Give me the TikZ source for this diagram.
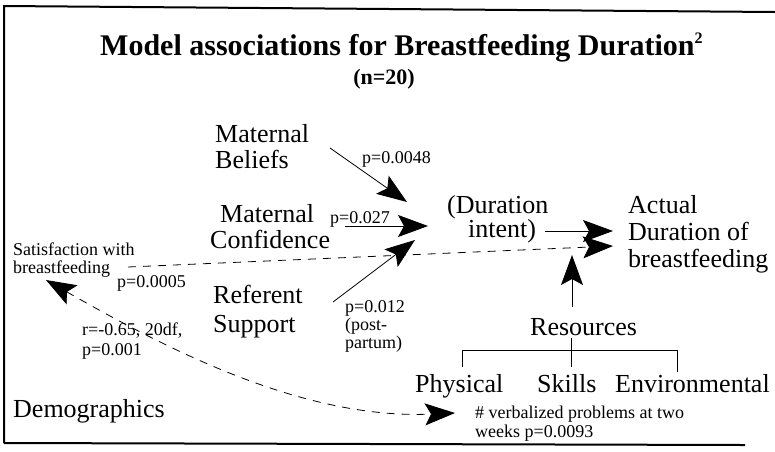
\documentclass[tikz,border=0pt]{standalone}
\usepackage{fontspec}
\setmainfont{Liberation Serif}
\usetikzlibrary{arrows.meta}
\begin{document}
\begin{tikzpicture}[x=1pt,y=-1pt,
  big/.style={font=\fontsize{26}{27}\selectfont, anchor=base west, inner sep=0pt},
  small/.style={font=\fontsize{18}{18}\selectfont, anchor=base west, inner sep=0pt},
  conn/.style={line width=0.8pt, -{Stealth[length=30pt,width=22pt,inset=6pt]}},
  dconn/.style={conn, dash pattern=on 8pt off 7pt},
  dboth/.style={line width=0.8pt, dash pattern=on 8pt off 7pt,
     {Stealth[length=30pt,width=22pt,inset=6pt]}-{Stealth[length=30pt,width=22pt,inset=6pt]}},
  frameline/.style={line width=2pt},
  treeline/.style={line width=0.8pt}]
\useasboundingbox (0,0) rectangle (775,451);
% frame
\draw[frameline] (4,443) -- (4,6) -- (775,12);
\draw[frameline] (4,443) -- (745,445);
% title
\node[anchor=base west, inner sep=0pt, font={\fontsize{30}{32}\selectfont\bfseries}] (title) at (100,55)
  {Model associations for Breastfeeding Duration\raisebox{12pt}{\fontsize{16}{16}\selectfont 2}};
\node[anchor=base, inner sep=0pt, font={\fontsize{22}{24}\selectfont\bfseries}] (n) at (384,84) {(n=20)};
% main nodes
\node[big] (mat1) at (215,142) {Maternal};
\node[big] (bel) at (215,168) {Beliefs};
\node[big] (mat2) at (220,222) {Maternal};
\node[big] (conf) at (210,248) {Confidence};
\node[big] (ref) at (213,303) {Referent};
\node[big] (sup) at (213,332) {Support};
\node[big] (dur) at (447,213) {(Duration};
\node[big] (int) at (468,237) {intent)};
\node[big] (act1) at (628,213) {Actual};
\node[big] (act2) at (628,240) {Duration of};
\node[big] (act3) at (628,267) {breastfeeding};
\node[big] (res) at (530,335) {Resources};
\node[big] (phy) at (415,392) {Physical};
\node[big] (ski) at (537,392) {Skills};
\node[big] (env) at (615,392) {Environmental};
\node[big] (demo) at (13,417) {Demographics};
% small labels
\node[small] (p1) at (362,163) {p=0.0048};
\node[small] (p2) at (330,223) {p=0.027};
\node[small] (sat1) at (13,255) {Satisfaction with};
\node[small] (sat2) at (13,273) {breastfeeding};
\node[small] (p3) at (117,287) {p=0.0005};
\node[small] (r1) at (82,335) {r=-0.65, 20df,};
\node[small] (r2) at (82,355) {p=0.001};
\node[small] (p4) at (345,312) {p=0.012};
\node[small] (p5) at (345,330) {(post-};
\node[small] (p6) at (345,348) {partum)};
\node[small] (vp1) at (475,418) {\# verbalized problems at two};
\node[small] (vp2) at (475,437) {weeks p=0.0093};
% connector end points
\coordinate (belS) at (330,148);
\coordinate (belT) at (407,202);
\coordinate (confS) at (345,226);
\coordinate (confT) at (428,226);
\coordinate (refS) at (333,302);
\coordinate (refT) at (415,240);
\coordinate (intS) at (545,231);
\coordinate (actT1) at (613,231);
\coordinate (satS) at (128,267);
\coordinate (actT2) at (613,246);
\coordinate (resS) at (572,307);
\coordinate (actT3) at (572,255);
\coordinate (satT) at (46,280);
\coordinate (vpT) at (455,413);
% connectors
\draw[conn] (belS) -- (belT);
\draw[conn] (confS) -- (confT);
\draw[conn] (refS) -- (refT);
\draw[conn] (intS) -- (actT1);
\draw[dconn] (satS) -- (actT2);
\draw[conn] (resS) -- (actT3);
\draw[dboth] (satT) .. controls (160,345) and (300,420) .. (vpT);
% resources tree
\coordinate (rb) at (571,338);
\coordinate (rl) at (462,350);
\coordinate (rr) at (677,350);
\draw[treeline] (rb) -- (571,367);
\draw[treeline] (rl) -- (rr);
\draw[treeline] (rl) -- (462,367);
\draw[treeline] (rr) -- (677,372);
\end{tikzpicture}
\end{document}
